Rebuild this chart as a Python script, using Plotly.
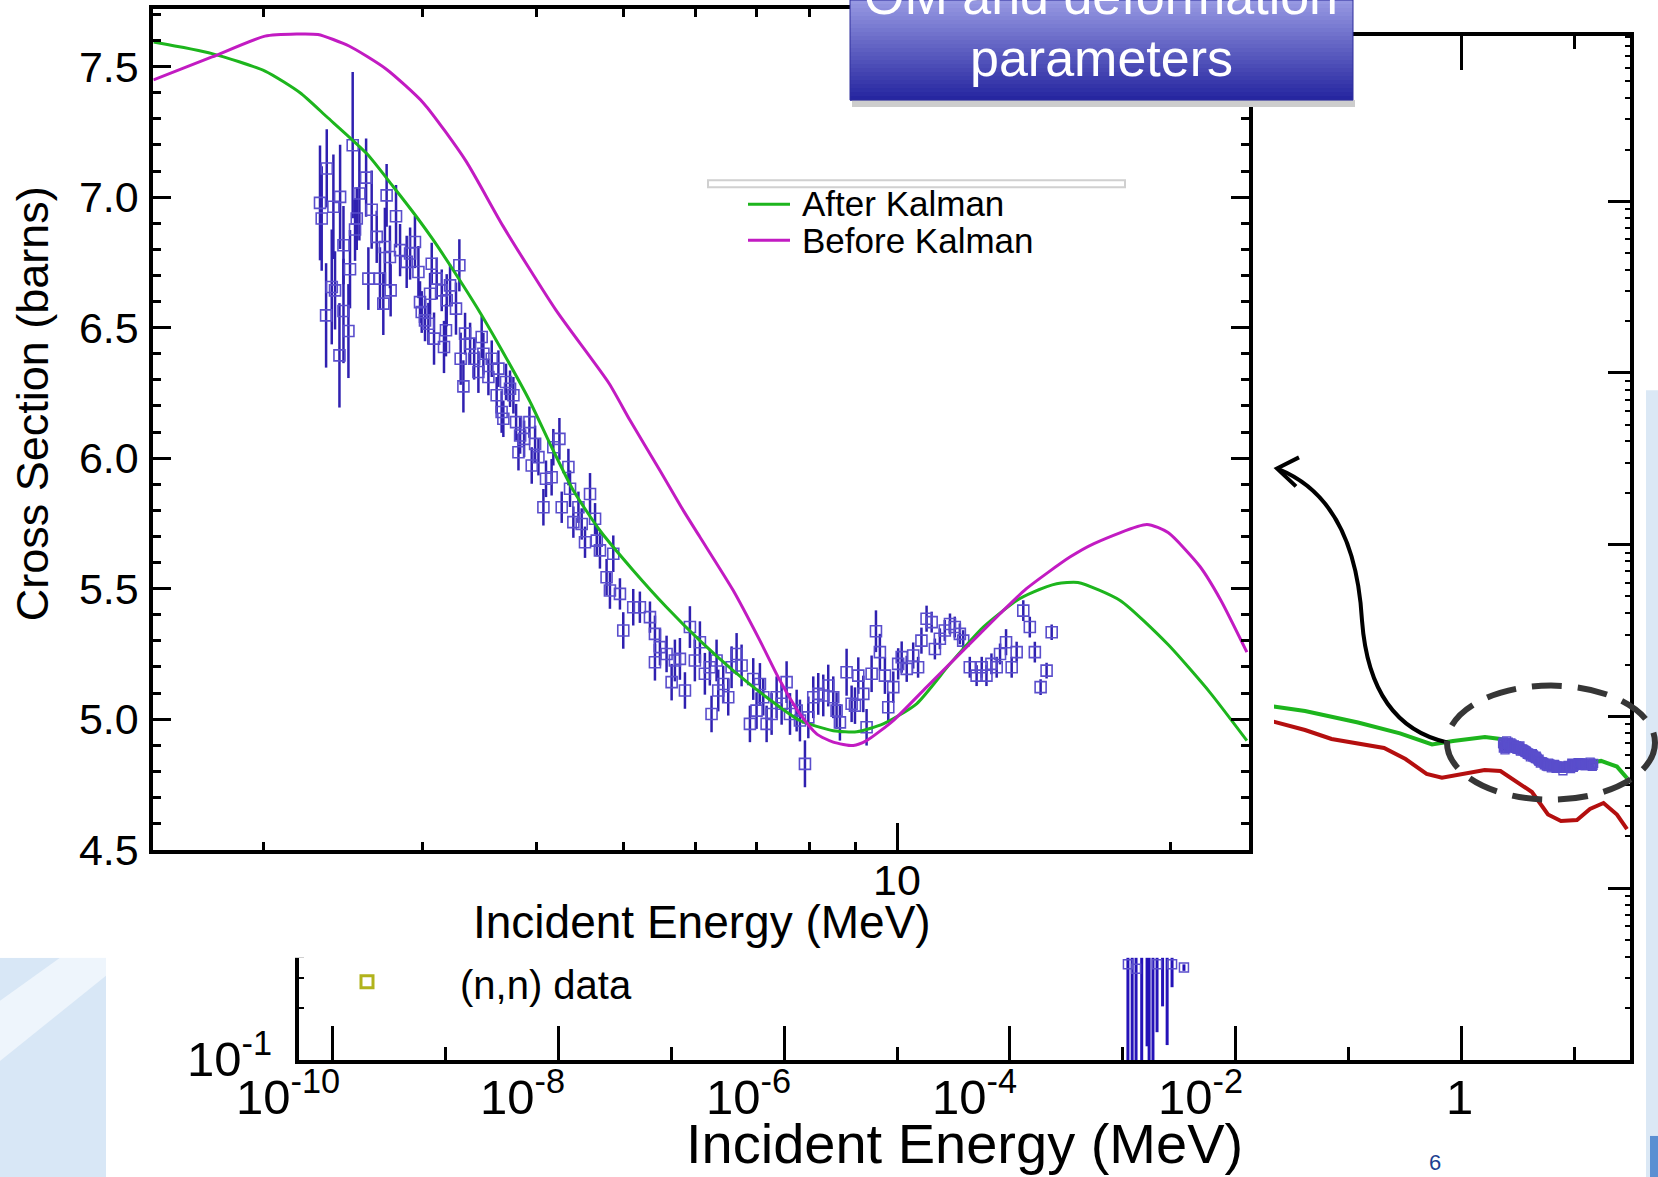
import plotly.graph_objects as go

# ---------------------------------------------------------------- data
# Inset: model total cross section (barns) vs incident energy (MeV)
after_E = [1.514, 1.757, 2.010, 2.197, 2.351, 2.602, 2.785, 2.954, 3.082, 3.242,
           3.440, 3.650, 3.933, 4.144, 4.397, 4.704, 5.119, 5.571, 6.063, 6.599,
           7.182, 7.816, 8.506, 9.030, 9.657, 10.51, 11.44, 12.45, 13.55, 14.13,
           15.00, 15.83, 17.62, 19.90, 22.14, 24.31]
after_xs = [7.594, 7.550, 7.483, 7.400, 7.308, 7.167, 7.039, 6.924, 6.835, 6.720,
            6.579, 6.426, 6.221, 6.055, 5.876, 5.723, 5.570, 5.429, 5.301, 5.186,
            5.084, 4.995, 4.956, 4.952, 4.982, 5.059, 5.212, 5.353, 5.455, 5.487,
            5.519, 5.524, 5.455, 5.286, 5.102, 4.918]

before_E = [1.514, 1.757, 2.010, 2.177, 2.299, 2.488, 2.733, 3.006, 3.348, 3.678,
            4.207, 4.813, 5.077, 5.478, 5.812, 6.063, 6.599, 7.061, 7.429, 7.816,
            8.154, 8.506, 8.950, 9.257, 9.906, 10.78, 11.93, 12.99, 13.89, 15.51,
            16.49, 18.86, 19.90, 21.58, 22.76, 24.31]
before_xs = [7.449, 7.537, 7.617, 7.625, 7.623, 7.579, 7.491, 7.360, 7.138, 6.889,
             6.567, 6.287, 6.145, 5.953, 5.800, 5.698, 5.493, 5.301, 5.148, 5.020,
             4.944, 4.912, 4.899, 4.918, 4.995, 5.123, 5.276, 5.404, 5.500, 5.621,
             5.673, 5.746, 5.715, 5.585, 5.455, 5.257]

# Measured total cross section: energy (MeV), value (barns), uncertainty (barns)
exp_E = [2.311, 2.321, 2.351, 2.347, 2.381, 2.391, 2.401, 2.428, 2.432, 2.453,
         2.453, 2.484, 2.494, 2.511, 2.526, 2.537, 2.554, 2.598, 2.613, 2.635,
         2.669, 2.691, 2.714, 2.725, 2.737, 2.760, 2.765, 2.803, 2.832, 2.880,
         2.905, 2.941, 2.967, 2.979, 2.992, 3.017, 3.043, 3.069, 3.056, 3.087,
         3.108, 3.148, 3.166, 3.182, 3.188, 3.215, 3.264, 3.292, 3.303, 3.326,
         3.340, 3.383, 3.418, 3.455, 3.484, 3.499, 3.544, 3.574, 3.619, 3.635,
         3.665, 3.681, 3.706, 3.744, 3.776, 3.802, 3.825, 3.841, 3.880, 3.933,
         3.956, 3.990, 4.024, 4.075, 4.102, 4.161, 4.179, 4.244, 4.269, 4.342,
         4.360, 4.397, 4.454, 4.491, 4.529, 4.587, 4.646, 4.666,
         4.704, 4.784, 4.825, 4.866, 4.949, 4.991, 5.119, 5.206, 5.341, 5.409,
         5.409, 5.478, 5.571, 5.643, 5.690, 5.763, 5.837, 5.911, 5.986, 6.063,
         6.140, 6.218, 6.245, 6.325, 6.352, 6.433, 6.515, 6.571, 6.655, 6.740,
         6.884, 6.942, 7.001, 7.061, 7.121, 7.182, 7.274, 7.367, 7.461, 7.556,
         7.621, 7.751, 7.816, 7.916, 7.984, 8.085, 8.188, 8.293, 8.398, 8.506,
         8.578, 8.651, 8.799, 8.912, 8.988, 9.064, 9.180, 9.257, 9.376, 9.480,
         9.575, 9.698, 9.781, 9.906, 10.03, 10.12, 10.25, 10.42, 10.55, 10.64,
         10.78, 10.92, 11.01, 11.15, 11.29, 11.44, 11.58, 11.73, 11.83, 12.03,
         12.24, 12.40, 12.55, 12.71, 12.88, 12.99, 13.19, 13.38, 13.55, 13.78,
         14.01, 14.19, 14.40, 14.62, 14.81]
exp_xs = [6.978, 6.918, 7.110, 6.547, 6.656, 6.963, 6.643, 6.394, 7.001, 6.816,
          6.564, 6.487, 6.724, 7.199, 6.876, 6.918, 7.014, 7.075, 6.688, 6.952,
          6.848, 6.688, 6.592, 6.809, 7.007, 6.771, 6.643, 6.927, 6.797, 6.752,
          6.784, 6.828, 6.713, 6.598, 6.560, 6.528, 6.515, 6.745, 6.630, 6.458,
          6.688, 6.643, 6.426, 6.490, 6.605, 6.662, 6.573, 6.739, 6.381, 6.275,
          6.477, 6.439, 6.381, 6.330, 6.464, 6.400, 6.311, 6.381, 6.241, 6.343,
          6.177, 6.151, 6.292, 6.266, 6.241, 6.138, 6.023, 6.087, 6.074, 6.138,
          5.972, 6.055, 6.004, 5.812, 5.921, 5.927, 6.042, 6.074, 5.812, 5.966,
          5.883, 5.755, 5.812, 5.748, 5.678, 5.863, 5.768, 5.684,
          5.647, 5.544, 5.493, 5.634, 5.480, 5.340, 5.429, 5.429, 5.391, 5.327,
          5.218, 5.276, 5.250, 5.142, 5.225, 5.231, 5.110, 5.353, 5.225, 5.295,
          5.174, 5.199, 5.020, 5.225, 5.110, 5.135, 5.084, 5.199, 5.250, 5.206,
          4.982, 5.154, 5.033, 5.135, 5.084, 4.982, 5.020, 5.084, 5.059, 5.142,
          5.020, 5.033, 4.995, 4.829, 5.007, 5.084, 5.097, 5.091, 5.129, 5.084,
          5.033, 4.988, 5.180, 5.059, 5.052, 5.167, 5.097, 4.969, 5.174, 5.337,
          5.257, 5.167, 5.046, 5.123, 5.212, 5.238, 5.193, 5.244, 5.199, 5.301,
          5.385, 5.372, 5.269, 5.308, 5.340, 5.365, 5.353, 5.327, 5.301, 5.199,
          5.167, 5.199, 5.167, 5.212, 5.199, 5.250, 5.295, 5.199, 5.257, 5.416,
          5.353, 5.257, 5.123, 5.186, 5.333]
exp_err = [0.22, 0.20, 0.15, 0.20, 0.22, 0.20, 0.15, 0.20, 0.20, 0.15,
           0.20, 0.18, 0.15, 0.28, 0.12, 0.12, 0.18, 0.15, 0.12, 0.15,
           0.10, 0.12, 0.12, 0.15, 0.12, 0.12, 0.10, 0.12, 0.10, 0.10,
           0.10, 0.10, 0.10, 0.08, 0.08, 0.08, 0.08, 0.08, 0.08, 0.10,
           0.08, 0.08, 0.10, 0.10, 0.10, 0.08, 0.10, 0.10, 0.10, 0.10,
           0.08, 0.08, 0.08, 0.08, 0.08, 0.08, 0.07, 0.07, 0.07, 0.07,
           0.08, 0.07, 0.07, 0.07, 0.07, 0.07, 0.07, 0.07, 0.07, 0.06,
           0.07, 0.07, 0.07, 0.07, 0.07, 0.07, 0.07, 0.08, 0.06, 0.07,
           0.07, 0.06, 0.06, 0.06, 0.06, 0.08, 0.06, 0.06,
           0.07, 0.07, 0.07, 0.07, 0.06, 0.07, 0.07, 0.06, 0.06, 0.07,
           0.07, 0.07, 0.07, 0.07, 0.08, 0.08, 0.07, 0.08, 0.08, 0.08,
           0.08, 0.07, 0.07, 0.08, 0.08, 0.07, 0.07, 0.08, 0.08, 0.08,
           0.07, 0.08, 0.07, 0.08, 0.07, 0.07, 0.08, 0.08, 0.08, 0.08,
           0.08, 0.08, 0.08, 0.09, 0.08, 0.08, 0.08, 0.08, 0.08, 0.08,
           0.07, 0.07, 0.09, 0.07, 0.07, 0.07, 0.07, 0.07, 0.07, 0.08,
           0.07, 0.07, 0.06, 0.06, 0.06, 0.06, 0.05, 0.05, 0.04, 0.05,
           0.05, 0.04, 0.04, 0.04, 0.04, 0.04, 0.04, 0.04, 0.04, 0.04,
           0.04, 0.04, 0.04, 0.04, 0.04, 0.04, 0.05, 0.04, 0.04, 0.04,
           0.04, 0.04, 0.03, 0.03, 0.03]

# Main panel: calculated curves in the fast-neutron range
main_green_E = [0.02163, 0.04111, 0.1211, 0.2851, 0.5483, 0.8414, 1.614, 2.213,
                3.041, 5.272, 7.311, 11.22, 17.22, 23.82, 29.24]
main_green_xs = [11.43, 10.76, 9.226, 7.962, 6.871, 7.194, 7.586, 7.396,
                 6.730, 5.649, 4.977, 5.212, 5.508, 5.105, 4.375]
main_red_E = [0.02163, 0.04111, 0.07063, 0.2061, 0.3192, 0.4909, 0.6714, 1.045,
              1.603, 2.213, 3.041, 4.207, 5.834, 7.603, 10.54, 13.74, 18.11,
              23.82, 29.24]
main_red_xs = [9.333, 8.337, 7.396, 6.546, 5.649, 4.624, 4.395, 4.624, 4.875,
               4.808, 4.207, 3.631, 2.685, 2.460, 2.495, 2.891, 3.133, 2.685, 2.208]

# Main panel: low-energy (n,n) points around 1-4 keV
low_E = [1.11e-3, 1.21e-3, 1.31e-3, 1.47e-3, 1.64e-3, 1.71e-3, 1.85e-3,
         2.01e-3, 2.25e-3, 2.47e-3, 2.73e-3, 3.48e-3]
low_xs = [0.36, 0.55, 0.34, 0.60, 0.50, 0.70, 0.45, 0.36, 0.60, 0.50, 0.36, 0.345]
low_err_minus = [0.265, 0.455, 0.245, 0.505, 0.380, 0.605, 0.355, 0.215,
                 0.395, 0.378, 0.095, 0.015]

# Tick values / labels
main_x_ticks = [1e-10, 1e-8, 1e-6, 1e-4, 1e-2, 1]
main_x_minor = [1e-9, 1e-7, 1e-5, 1e-3, 1e-1, 10]
main_x_labels = ['10<sup>-10</sup>', '10<sup>-8</sup>', '10<sup>-6</sup>',
                 '10<sup>-4</sup>', '10<sup>-2</sup>', '1']
main_x_label_exp = [-10, -8, -6, -4, -2, 0]
main_y_ticks = [0.1, 1, 10, 100, 1000, 10000]
main_y_minor = [m * d for d in [0.1, 1, 10, 100, 1000, 10000] for m in range(2, 10)]
inset_x_ticks = [10]
inset_x_labels = ['10']
inset_x_minor = [2, 3, 4, 5, 6, 7, 8, 9, 20]

# ---------------------------------------------------------------- styling
W, H = 1658, 1177          # target picture size (layout positions below)
FIG_H = 1202               # page height; the capture maps it onto H
FONT = 'Liberation Sans, Arial, Helvetica, sans-serif'
GREEN = '#1db51d'
MAGENTA = '#c21bc2'
RED = '#b40f0f'
BLUE = '#2f20b0'
BLUE_M = '#5a4ecc'


def px(x):
    return x / W


def py(y):
    return 1 - y / H


fig = go.Figure()

# ---- main (background) panel: xy
fig.add_trace(go.Scatter(x=main_red_E, y=main_red_xs, mode='lines',
                         line=dict(color=RED, width=4), xaxis='x', yaxis='y',
                         showlegend=False))
fig.add_trace(go.Scatter(x=main_green_E, y=main_green_xs, mode='lines',
                         line=dict(color=GREEN, width=4), xaxis='x', yaxis='y',
                         showlegend=False))
fig.add_trace(go.Scatter(x=exp_E, y=exp_xs, mode='markers', xaxis='x', yaxis='y',
                         marker=dict(symbol='square-open', size=8, color=BLUE_M,
                                     line=dict(width=1.3)),
                         error_y=dict(type='data', array=exp_err, color=BLUE,
                                      thickness=1.3, width=0),
                         showlegend=False))
fig.add_trace(go.Scatter(x=low_E, y=low_xs, mode='markers', xaxis='x', yaxis='y',
                         marker=dict(symbol='square-open', size=9, color=BLUE_M,
                                     line=dict(width=1.5)),
                         error_y=dict(type='data', symmetric=False,
                                      array=low_err_minus, arrayminus=low_err_minus,
                                      color='#2412b8', thickness=3, width=0),
                         showlegend=False))

# ---- white panel that hides the upper-left part of the main plot: x2y2
fig.add_trace(go.Scatter(x=[], y=[], xaxis='x2', yaxis='y2', showlegend=False,
                         hoverinfo='skip'))

# ---- inset: x3y3
fig.add_trace(go.Scatter(x=exp_E, y=exp_xs, mode='markers', xaxis='x3', yaxis='y3',
                         marker=dict(symbol='square-open', size=11, color=BLUE_M,
                                     line=dict(width=1.6)),
                         error_y=dict(type='data', array=exp_err, color=BLUE,
                                      thickness=2.5, width=0),
                         name='(n,n) data', showlegend=False))
fig.add_trace(go.Scatter(x=after_E, y=after_xs, mode='lines', xaxis='x3', yaxis='y3',
                         line=dict(color=GREEN, width=3, shape='spline',
                                   smoothing=0.6),
                         name='After Kalman', showlegend=False))
fig.add_trace(go.Scatter(x=before_E, y=before_xs, mode='lines', xaxis='x3', yaxis='y3',
                         line=dict(color=MAGENTA, width=3, shape='spline',
                                   smoothing=0.6),
                         name='Before Kalman', showlegend=False))

axis_common = dict(showgrid=False, zeroline=False, linecolor='black',
                   tickcolor='black', showline=True)

fig.update_layout(
    width=W, height=FIG_H, autosize=False,
    margin=dict(l=0, r=0, t=0, b=0, pad=0),
    paper_bgcolor='white', plot_bgcolor='white',
    font=dict(family=FONT, color='black'),
    showlegend=False,
    xaxis=dict(**axis_common, type='log', range=[-10.297, 1.4925],
               domain=[px(299), px(1630)], anchor='y', linewidth=4,
               mirror='ticks', ticks='inside', ticklen=34, tickwidth=3,
               tickmode='array', tickvals=main_x_ticks, showticklabels=False,
               minor=dict(tickmode='array', tickvals=main_x_minor,
                          ticks='inside', ticklen=13, tickwidth=3,
                          tickcolor='black')),
    yaxis=dict(**axis_common, type='log', range=[-1.0, 4.962],
               domain=[py(1059), py(36)], anchor='x', linewidth=4,
               mirror='ticks', ticks='inside', ticklen=22, tickwidth=3,
               tickmode='array', tickvals=main_y_ticks, showticklabels=False,
               minor=dict(tickmode='array', tickvals=main_y_minor,
                          ticks='inside', ticklen=5, tickwidth=2,
                          tickcolor='black')),
    xaxis2=dict(domain=[0, px(1274)], anchor='y2', range=[0, 1], visible=False,
                fixedrange=True),
    yaxis2=dict(domain=[py(957), 1], anchor='x2', range=[0, 1], visible=False,
                fixedrange=True),
    xaxis3=dict(**axis_common, type='log', range=[0.1800, 1.3879],
                domain=[px(153.3), px(1248.8)], anchor='y3', linewidth=4,
                mirror='ticks', ticks='inside', ticklen=27, tickwidth=3,
                tickmode='array', tickvals=inset_x_ticks, ticktext=inset_x_labels,
                tickfont=dict(size=43, family=FONT), ticklabelstandoff=-10,
                minor=dict(tickmode='array', tickvals=inset_x_minor,
                           ticks='inside', ticklen=8, tickwidth=3,
                           tickcolor='black')),
    yaxis3=dict(**axis_common, range=[4.5, 7.7227],
                domain=[py(849), py(8.5)], anchor='x3', linewidth=4,
                mirror='ticks', ticks='inside', ticklen=18, tickwidth=3,
                tick0=4.5, dtick=0.5, tickformat='.1f',
                tickfont=dict(size=43, family=FONT), ticklabelstandoff=2,
                minor=dict(tick0=4.5, dtick=0.1, ticks='inside', ticklen=8,
                           tickwidth=3, tickcolor='black')),
)

shapes = []
annotations = []

# ---- slide decorations
shapes.append(dict(type='rect', xref='paper', yref='paper', layer='below',
                   x0=px(0), x1=px(106), y0=py(1177), y1=py(957),
                   fillcolor='#d8e7f6', line=dict(width=0)))
shapes.append(dict(type='path', xref='paper', yref='paper', layer='below',
                   path=f'M {px(0)} {py(1000)} L {px(60)} {py(957)} L {px(106)} {py(957)} '
                        f'L {px(106)} {py(975)} L {px(0)} {py(1060)} Z',
                   fillcolor='#eef5fc', line=dict(width=0)))
shapes.append(dict(type='rect', xref='paper', yref='paper', layer='below',
                   x0=px(1646), x1=px(1658), y0=py(1177), y1=py(390),
                   fillcolor='#dbe8f5', line=dict(width=0)))
shapes.append(dict(type='rect', xref='paper', yref='paper', layer='below',
                   x0=px(1650), x1=px(1658), y0=py(1177), y1=py(1135),
                   fillcolor='#5b8fd2', line=dict(width=0)))

# ---- inset legend
shapes.append(dict(type='rect', xref='paper', yref='paper', layer='above',
                   x0=px(708), x1=px(1125), y0=py(187), y1=py(180),
                   fillcolor='white', line=dict(color='#d0d0d0', width=2)))
for ypix, col in [(204, GREEN), (240, MAGENTA)]:
    shapes.append(dict(type='line', xref='paper', yref='paper', layer='above',
                       x0=px(748), x1=px(790), y0=py(ypix), y1=py(ypix),
                       line=dict(color=col, width=3)))
for ypix, txt in [(203, 'After Kalman'), (240, 'Before Kalman')]:
    annotations.append(dict(text=txt, xref='paper', yref='paper', x=px(800),
                            y=py(ypix), xanchor='left', yanchor='middle',
                            showarrow=False, font=dict(size=35, family=FONT)))

# ---- main-panel legend entry
shapes.append(dict(type='rect', xref='paper', yref='paper', layer='above',
                   x0=px(361), x1=px(373), y0=py(987), y1=py(975),
                   fillcolor='white', line=dict(color='#b1b31c', width=3)))
annotations.append(dict(text='(n,n) data', xref='paper', yref='paper', x=px(458),
                        y=py(984), xanchor='left', yanchor='middle',
                        showarrow=False, font=dict(size=40, family=FONT)))

# ---- title box with vertical gradient
top_c = (150, 152, 226)
bot_c = (38, 38, 160)
nb = 25
for i in range(nb):
    t = i / (nb - 1)
    c = tuple(round(a + (b - a) * t) for a, b in zip(top_c, bot_c))
    shapes.append(dict(type='rect', xref='paper', yref='paper', layer='above',
                       x0=px(850), x1=px(1353), y0=py(100 * (i + 1) / nb + 0.5),
                       y1=py(100 * i / nb),
                       fillcolor=f'rgb{c}', line=dict(width=0)))
shapes.append(dict(type='rect', xref='paper', yref='paper', layer='above',
                   x0=px(852), x1=px(1355), y0=py(107), y1=py(100),
                   fillcolor='#cdcdcd', line=dict(width=0)))
shapes.append(dict(type='rect', xref='paper', yref='paper', layer='above',
                   x0=px(850), x1=px(1353), y0=py(100), y1=py(0),
                   fillcolor='rgba(0,0,0,0)', line=dict(color='#2c2c9c', width=1)))
annotations.append(dict(text='OM and deformation', xref='paper', yref='paper',
                        x=px(1101), y=py(-4), xanchor='center', yanchor='middle',
                        showarrow=False, font=dict(size=52, family=FONT,
                                                   color='white')))
annotations.append(dict(text='parameters', xref='paper', yref='paper',
                        x=px(1101), y=py(58), xanchor='center', yanchor='middle',
                        showarrow=False, font=dict(size=52, family=FONT,
                                                   color='white')))

# ---- curved arrow and dashed ellipse
def P(x, y):
    return f'{px(x):.5f},{py(y):.5f}'


shapes.append(dict(type='path', xref='paper', yref='paper', layer='above',
                   path=f'M {P(1448, 742)} Q {P(1370, 725)} {P(1362, 620)} '
                        f'Q {P(1355, 500)} {P(1279, 469)}',
                   line=dict(color='black', width=4)))
shapes.append(dict(type='path', xref='paper', yref='paper', layer='above',
                   path=f'M {P(1299, 457)} L {P(1277, 468)} L {P(1296, 486)}',
                   line=dict(color='black', width=4)))
shapes.append(dict(type='circle', xref='paper', yref='paper', layer='above',
                   x0=px(1447), x1=px(1655), y0=py(799), y1=py(685),
                   line=dict(color='#363636', width=6, dash='30px,16px')))

# ---- main-panel tick labels and titles
for e, lab in zip(main_x_label_exp, main_x_labels):
    annotations.append(dict(text=lab, xref='x', yref='paper', x=e, y=py(1125),
                            xanchor='right' if lab != '1' else 'center',
                            xshift=9 if lab != '1' else -2,
                            yanchor='bottom', showarrow=False,
                            font=dict(size=49, family=FONT)))
annotations.append(dict(text='10<sup>-1</sup>', xref='paper', yref='paper',
                        x=px(274), y=py(1087), xanchor='right', yanchor='bottom',
                        showarrow=False, font=dict(size=49, family=FONT)))
annotations.append(dict(text='Incident Energy (MeV)', xref='paper', yref='paper',
                        x=px(965), y=py(1143), xanchor='center', yanchor='middle',
                        showarrow=False, font=dict(size=56, family=FONT)))
# inset titles
annotations.append(dict(text='Incident Energy (MeV)', xref='paper', yref='paper',
                        x=px(702), y=py(921), xanchor='center', yanchor='middle',
                        showarrow=False, font=dict(size=46, family=FONT)))
annotations.append(dict(text='Cross Section (barns)', xref='paper', yref='paper',
                        x=px(32), y=py(404), xanchor='center', yanchor='middle',
                        textangle=-90, showarrow=False,
                        font=dict(size=45, family=FONT)))
# page number at the bottom edge of the slide
annotations.append(dict(text='6', xref='paper', yref='paper', x=px(1435),
                        y=py(1176), xanchor='center', yanchor='bottom',
                        showarrow=False, font=dict(size=22, family=FONT,
                                                   color='#1d3f91')))

fig.update_layout(shapes=shapes, annotations=annotations)
fig.write_html(
    'out.html', config={'displayModeBar': False},
    post_script=("document.body.style.margin='0px';"
                 "document.body.style.padding='0px';"))
